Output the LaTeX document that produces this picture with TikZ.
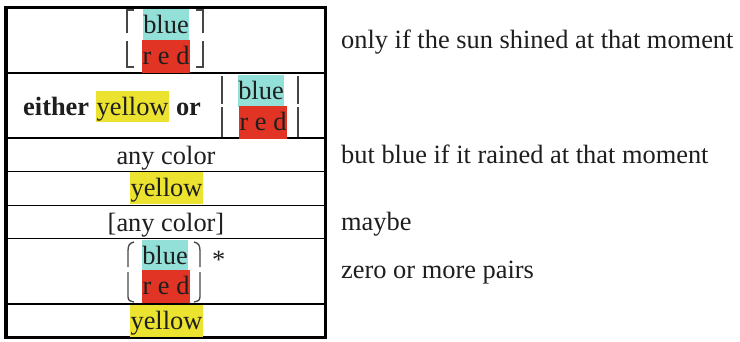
\documentclass[tikz,border=0pt]{standalone}
\usepackage{fontspec}
\setmainfont{Liberation Serif}
\usepackage{xcolor}
\usepackage{tikz}
\usetikzlibrary{calc, positioning}

\definecolor{cellcyan}{RGB}{147,224,217}
\definecolor{cellred}{RGB}{225,52,37}
\definecolor{markyellow}{RGB}{235,227,47}
\definecolor{inkgray}{RGB}{30,30,30}
\definecolor{bracketgray}{RGB}{70,70,70}

\tikzset{
    cell/.style={inner xsep=0.5pt, inner ysep=0pt, text height=24.5pt, text depth=7pt},
    cyancell/.style={cell, fill=cellcyan},
    redcell/.style={cell, fill=cellred, text depth=8pt},
    yellowmark/.style={cell, fill=markyellow},
    plain/.style={inner sep=0pt},
    note/.style={inner sep=0pt, anchor=base west},
    rowrule/.style={line width=1.6pt, draw=black},
    brk/.style={line width=1.3pt, draw=bracketgray}
}

\begin{document}
\begin{tikzpicture}[x=1pt, y=-1pt, font=\fontsize{26.4pt}{30pt}\selectfont, text=inkgray]
    \useasboundingbox (0,0) rectangle (740,341);

    % frame and row rules
    \draw[line width=3.2pt] (6,7.5) rectangle (325.5,337.5);
    \foreach \y in {73,138,171.5,205.5,238.5,304}
        \draw[rowrule] (6,\y) -- (325.5,\y);

    % row 1: bracketed pair
    \node (b1) [cyancell, anchor=north] at (166,9) {blue};
    \node (r1) [redcell, anchor=north] at (166,40) {r e d};
    \draw[brk] (134,10) -- (127,10) -- (127,33) (127,41) -- (127,67) -- (134,67);
    \draw[brk] (196,10) -- (203,10) -- (203,33) (203,41) -- (203,67) -- (196,67);

    % row 2: either ... or
    \node (either) [plain, anchor=base west] at (23,115) {\bfseries either};
    \node (yel2) [yellowmark, anchor=base west] at ([xshift=6.6pt]either.base east) {yellow};
    \node (or) [plain, anchor=base west] at ([xshift=6.6pt]yel2.base east) {\bfseries or};
    \node (b2) [cyancell, anchor=north] at (261,75) {blue};
    \node (r2) [redcell, anchor=north] at (263,106) {r e d};
    \draw[brk] (222,76) -- (222,104) (222,107) -- (222,137);
    \draw[brk] (298,76) -- (298,104) (298,107) -- (298,137);

    % rows 3 to 5
    \node (any1) [plain, anchor=base] at (166,164) {any color};
    \node (yel4) [yellowmark, anchor=north] at (166.5,172) {yellow};
    \node (any2) [plain, anchor=base] at (166,231) {[any color]};

    % row 6: repeated pair
    \node (b6) [cyancell, anchor=north] at (165,240) {blue};
    \node (r6) [redcell, anchor=north] at (166,270) {r e d};
    \draw[brk] (134,242) .. controls (129,243) and (128,246) .. (128,251) -- (128,267)
               (128,272) -- (128,296) .. controls (128,300) and (129,301) .. (134,302);
    \draw[brk] (194,242) .. controls (199,243) and (200,246) .. (200,251) -- (200,267)
               (200,272) -- (200,296) .. controls (200,300) and (199,301) .. (194,302);
    \node (star) [plain, anchor=base west] at (212,268) {*};

    % row 7
    \node (yel7) [yellowmark, anchor=north] at (166.5,305) {yellow};

    % notes on the right
    \node (n1) [note] at (341,48) {only if the sun shined at that moment};
    \node (n2) [note] at (341,163) {but blue if it rained at that moment};
    \node (n3) [note] at (341,230) {maybe};
    \node (n4) [note] at (341,278) {zero or more pairs};
\end{tikzpicture}
\end{document}
